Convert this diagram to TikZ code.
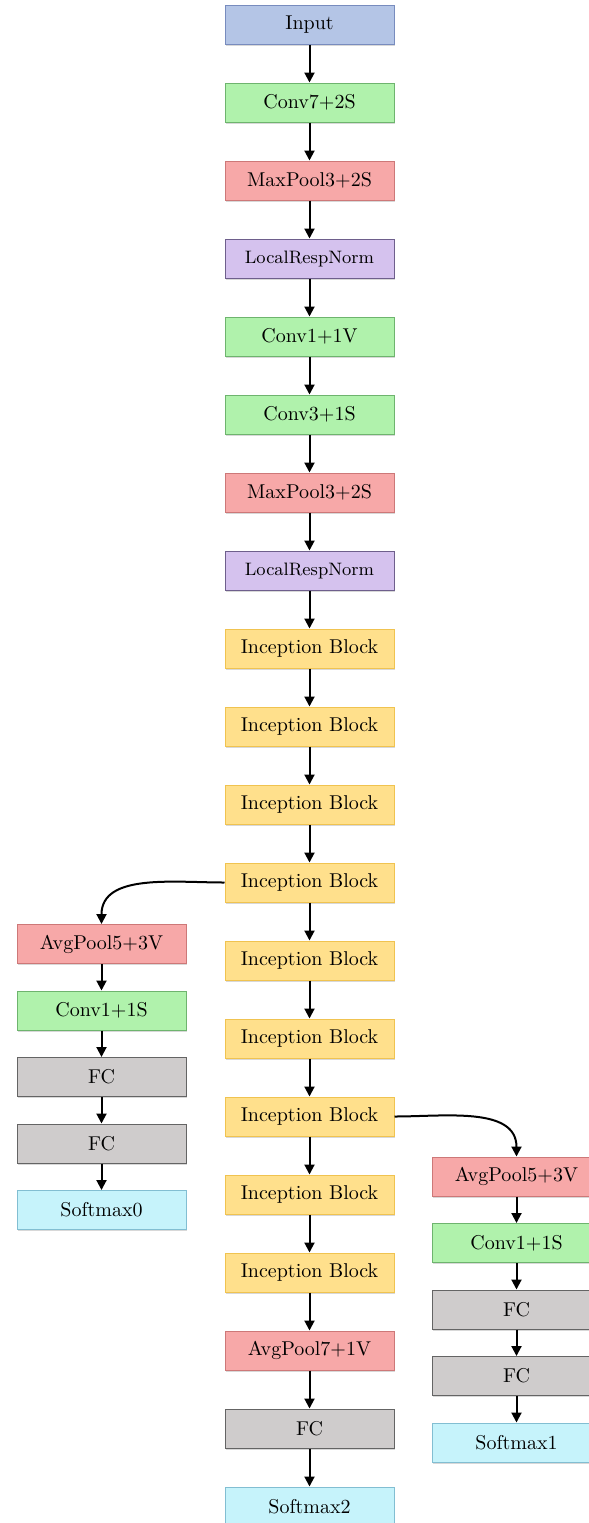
\documentclass[tikz,border=0pt]{standalone}
\usetikzlibrary{positioning,arrows.meta,shadows}
\definecolor{inputfill}{RGB}{180,197,230}
\definecolor{inputline}{RGB}{120,140,190}
\definecolor{convfill}{RGB}{176,242,172}
\definecolor{convline}{RGB}{110,180,110}
\definecolor{poolfill}{RGB}{247,168,168}
\definecolor{poolline}{RGB}{205,120,120}
\definecolor{normfill}{RGB}{213,194,238}
\definecolor{normline}{RGB}{110,95,140}
\definecolor{incfill}{RGB}{255,224,140}
\definecolor{incline}{RGB}{240,195,80}
\definecolor{fcfill}{RGB}{207,204,204}
\definecolor{fcline}{RGB}{100,100,100}
\definecolor{softfill}{RGB}{198,243,251}
\definecolor{softline}{RGB}{130,190,210}
\tikzset{
    layer/.style={
        draw, line width=0.5pt,
        minimum width=84.5pt, minimum height=19.5pt, inner sep=2pt,
        drop shadow={shadow xshift=0.5pt, shadow yshift=-0.8pt, opacity=0.3}
    },
    inputbox/.style={layer, fill=inputfill, draw=inputline},
    convbox/.style={layer, fill=convfill, draw=convline},
    poolbox/.style={layer, fill=poolfill, draw=poolline},
    normbox/.style={layer, fill=normfill, draw=normline, font=\small},
    incbox/.style={layer, fill=incfill, draw=incline},
    fcbox/.style={layer, fill=fcfill, draw=fcline},
    softbox/.style={layer, fill=softfill, draw=softline},
    flow/.style={-{Triangle[length=5pt,width=5pt]}, line width=1pt, black}
}

\begin{document}
\begin{tikzpicture}[x=0.5pt, y=0.5pt, node distance=19pt]
    \path[use as bounding box, fill=white] (0,0) rectangle (589,-1523);

    % main stem
    \node[inputbox] (inp) at (309.5,-24.5) {Input};
    \node[convbox, below=of inp] (conv1) {Conv7+2S};
    \node[poolbox, below=of conv1] (pool1) {MaxPool3+2S};
    \node[normbox, below=of pool1] (lrn1) {LocalRespNorm};
    \node[convbox, below=of lrn1] (conv2) {Conv1+1V};
    \node[convbox, below=of conv2] (conv3) {Conv3+1S};
    \node[poolbox, below=of conv3] (pool2) {MaxPool3+2S};
    \node[normbox, below=of pool2] (lrn2) {LocalRespNorm};
    \node[incbox, below=of lrn2] (inc1) {Inception Block};
    \node[incbox, below=of inc1] (inc2) {Inception Block};
    \node[incbox, below=of inc2] (inc3) {Inception Block};
    \node[incbox, below=of inc3] (inc4) {Inception Block};
    \node[incbox, below=of inc4] (inc5) {Inception Block};
    \node[incbox, below=of inc5] (inc6) {Inception Block};
    \node[incbox, below=of inc6] (inc7) {Inception Block};
    \node[incbox, below=of inc7] (inc8) {Inception Block};
    \node[incbox, below=of inc8] (inc9) {Inception Block};
    \node[poolbox, below=of inc9] (pool3) {AvgPool7+1V};
    \node[fcbox, below=of pool3] (fc) {FC};
    \node[softbox, below=of fc] (soft2) {Softmax2};

    \foreach \a/\b in {inp/conv1, conv1/pool1, pool1/lrn1, lrn1/conv2, conv2/conv3,
        conv3/pool2, pool2/lrn2, lrn2/inc1, inc1/inc2, inc2/inc3, inc3/inc4,
        inc4/inc5, inc5/inc6, inc6/inc7, inc7/inc8, inc8/inc9, inc9/pool3,
        pool3/fc, fc/soft2}
        \draw[flow] (\a) -- (\b);

    % auxiliary classifier 0
    \begin{scope}[node distance=13.25pt]
        \node[poolbox, below=10.75pt of inc4, xshift=-104pt] (auxpoolA) {AvgPool5+3V};
        \node[convbox, below=of auxpoolA] (auxconvA) {Conv1+1S};
        \node[fcbox, below=of auxconvA] (auxfcA) {FC};
        \node[fcbox, below=of auxfcA] (auxfcAA) {FC};
        \node[softbox, below=of auxfcAA] (soft0) {Softmax0};
    \end{scope}

    % auxiliary classifier 1
    \begin{scope}[node distance=13.25pt]
        \node[poolbox, below=10pt of inc7, xshift=103.5pt] (auxpoolB) {AvgPool5+3V};
        \node[convbox, below=of auxpoolB] (auxconvB) {Conv1+1S};
        \node[fcbox, below=of auxconvB] (auxfcB) {FC};
        \node[fcbox, below=of auxfcB] (auxfcBB) {FC};
        \node[softbox, below=of auxfcBB] (soft1) {Softmax1};
    \end{scope}

    \draw[flow] (inc4.west) to[out=180, in=90] (auxpoolA.north);
    \draw[flow] (inc7.east) to[out=0, in=90] (auxpoolB.north);

    \foreach \a/\b in {auxpoolA/auxconvA, auxconvA/auxfcA, auxfcA/auxfcAA, auxfcAA/soft0,
        auxpoolB/auxconvB, auxconvB/auxfcB, auxfcB/auxfcBB, auxfcBB/soft1}
        \draw[flow] (\a) -- (\b);
\end{tikzpicture}
\end{document}
